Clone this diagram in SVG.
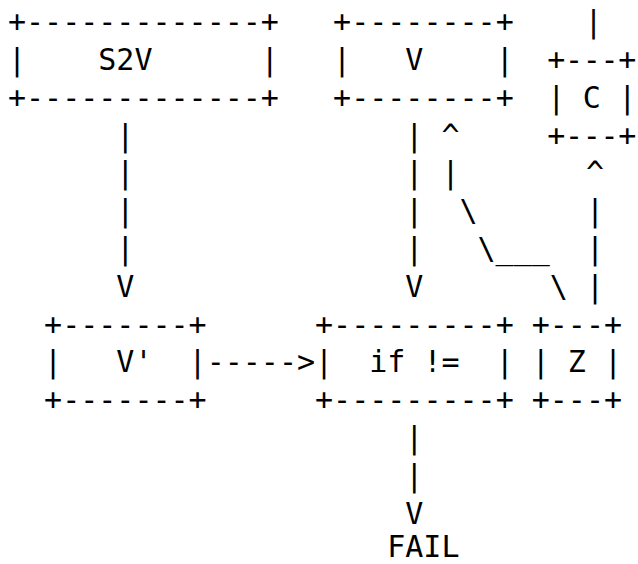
<svg xmlns="http://www.w3.org/2000/svg" width="638" height="564" viewBox="0 0 638 564">
<style>
text{font-family:"DejaVu Sans Mono","Liberation Mono",monospace;font-size:30px;fill:#000;white-space:pre}
</style>
<rect width="638" height="564" fill="#fff"/>
<g id="node-s2v">
<text x="8" y="32.2" xml:space="preserve">+-------------+</text>
<text x="8" y="70" xml:space="preserve">|    S2V      |</text>
<text x="8" y="107.8" xml:space="preserve">+-------------+</text>
</g>
<g id="node-v">
<text x="333.08" y="32.2" xml:space="preserve">+--------+</text>
<text x="333.08" y="70" xml:space="preserve">|   V    |</text>
<text x="333.08" y="107.8" xml:space="preserve">+--------+</text>
</g>
<g id="node-c">
<text x="547.2" y="70" xml:space="preserve" textLength="89" lengthAdjust="spacing">+---+</text>
<text x="547.2" y="107.8" xml:space="preserve" textLength="89" lengthAdjust="spacing">| C |</text>
<text x="547.2" y="145.6" xml:space="preserve" textLength="89" lengthAdjust="spacing">+---+</text>
</g>
<g id="node-vprime">
<text x="44.12" y="334.6" xml:space="preserve">+-------+</text>
<text x="44.12" y="372.4" xml:space="preserve">|   V'  |</text>
<text x="44.12" y="410.2" xml:space="preserve">+-------+</text>
</g>
<g id="node-if">
<text x="315.02" y="334.6" xml:space="preserve">+---------+</text>
<text x="315.02" y="372.4" xml:space="preserve">|  if !=  |</text>
<text x="315.02" y="410.2" xml:space="preserve">+---------+</text>
</g>
<g id="node-z">
<text x="531.74" y="334.6" xml:space="preserve">+---+</text>
<text x="531.74" y="372.4" xml:space="preserve">| Z |</text>
<text x="531.74" y="410.2" xml:space="preserve">+---+</text>
</g>
<g id="node-fail">
<text x="387.26" y="556.8">FAIL</text>
</g>
<g id="connectors">
<text x="584.4" y="32.2">|</text>
<text x="116.36" y="145.6">|</text>
<text x="116.36" y="183.4">|</text>
<text x="116.36" y="221.2">|</text>
<text x="116.36" y="259">|</text>
<text x="116.36" y="296.8">V</text>
<text x="405.32" y="145.6">|</text>
<text x="405.32" y="183.4">|</text>
<text x="405.32" y="221.2">|</text>
<text x="405.32" y="259">|</text>
<text x="405.32" y="296.8">V</text>
<text x="441.44" y="145.6">^</text>
<text x="441.44" y="183.4">|</text>
<text x="459.5" y="221.2">\</text>
<text x="477.56" y="259">\___</text>
<text x="549.8" y="296.8">\</text>
<text x="585.92" y="183.4">^</text>
<text x="585.92" y="221.2">|</text>
<text x="585.92" y="259">|</text>
<text x="585.92" y="296.8">|</text>
<text x="206.66" y="372.4">-----&gt;</text>
<text x="405.32" y="448">|</text>
<text x="405.32" y="485.8">|</text>
<text x="405.32" y="523.6">V</text>
</g>
</svg>
